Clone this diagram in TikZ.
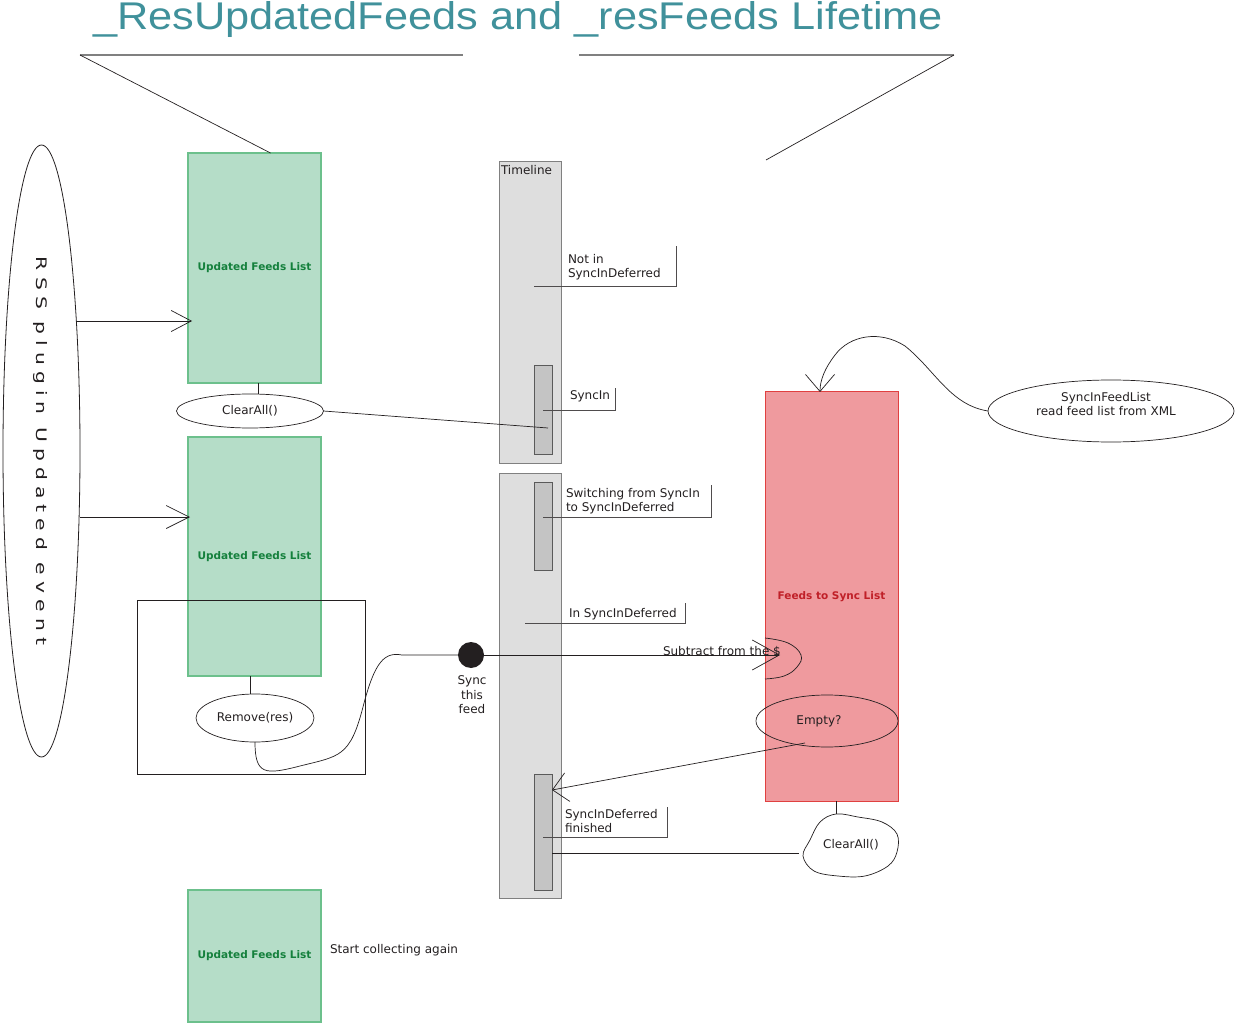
\documentclass[tikz,border=0pt]{standalone}
\usepackage{fontspec}
\usepackage{graphicx}
\setmainfont{DejaVu Sans}
\newfontfamily\titlefont{Liberation Sans}
\newfontfamily\evfont[LetterSpace=30]{DejaVu Sans}
\usetikzlibrary{shapes.geometric,arrows.meta}
\definecolor{titleteal}{RGB}{64,145,155}
\definecolor{gfill}{RGB}{181,221,200}
\definecolor{gdraw}{RGB}{108,192,140}
\definecolor{gtext}{RGB}{20,128,60}
\definecolor{rfill}{RGB}{239,154,158}
\definecolor{rdraw}{RGB}{224,64,64}
\definecolor{rtext}{RGB}{192,32,40}
\definecolor{barfill}{RGB}{222,222,222}
\definecolor{bardraw}{RGB}{128,128,128}
\definecolor{innerfill}{RGB}{196,196,196}
\definecolor{ink}{RGB}{35,31,32}
\tikzset{
  every node/.style={inner sep=0pt, outer sep=0pt, text=ink},
  thinline/.style={draw=ink, line width=0.7pt},
  greenbox/.style={rectangle, draw=gdraw, line width=1.2pt, fill=gfill, text=gtext, font=\fontsize{10.5}{12}\selectfont\bfseries},
  redbox/.style={rectangle, draw=rdraw, line width=1pt, fill=rfill, text=rtext, font=\fontsize{10.5}{12}\selectfont\bfseries},
  barbox/.style={rectangle, draw=bardraw, line width=1pt, fill=barfill},
  innerbar/.style={rectangle, draw=bardraw!70!black, line width=1pt, fill=innerfill},
  oval/.style={ellipse, draw=ink, line width=0.7pt},
  lbl/.style={font=\fontsize{12}{14.3}\selectfont, align=left},
  callout/.style={draw=ink!80, line width=0.8pt},
}
\begin{document}
\begin{tikzpicture}[x=1pt,y=-1pt]
\useasboundingbox (0,0) rectangle (1235,1024);
% title
\node[anchor=base west, text=titleteal] (title) at (93,30) {\resizebox{850pt}{28pt}{\titlefont \_ResUpdatedFeeds and \_resFeeds Lifetime}};
% boxes
\node[greenbox, minimum width=133pt, minimum height=230pt] (g1) at (254.5,268) {Updated Feeds List};
\node[greenbox, minimum width=133pt, minimum height=239pt] (g2) at (254.5,556.5) {Updated Feeds List};
\node[greenbox, minimum width=133pt, minimum height=132pt] (g3) at (254.5,956) {Updated Feeds List};
\node[redbox, minimum width=133pt, minimum height=409pt] (rb) at (831.5,596.5) {Feeds to Sync List};
% frame around removal
\node[draw=ink, line width=0.8pt, minimum width=228pt, minimum height=174pt] (fr) at (251,687) {};
% title lines
\coordinate (tl1) at (80,55);
\coordinate (tl2) at (463,55);
\coordinate (tr1) at (579,55);
\coordinate (tr2) at (954,55);
\coordinate (tr3) at (766,160);
\draw[draw=bardraw, line width=1.5pt] (tl1) -- (tl2);
\draw[draw=bardraw, line width=1.5pt] (tr1) -- (tr2);
\draw[thinline] (tl1) -- ([xshift=16pt]g1.north);
\draw[thinline] (tr2) -- (tr3);
% left event ellipse
\node[ellipse, draw=ink, line width=0.8pt, minimum width=77pt, minimum height=612pt] (ev) at (41.5,451) {};
\node[rotate=-90] (evt) at (40,451) {\scalebox{1.4}[1]{\evfont\fontsize{14.5}{16}\selectfont RSS plugin Updated event}};
\coordinate (ev1) at (76,321);
\coordinate (ev2) at (80,517);
\draw[thinline, -{Straight Barb[length=20pt,width=21pt]}] (ev1) -- ([xshift=4pt]ev1 -| g1.west);
\draw[thinline, -{Straight Barb[length=23pt,width=23pt]}] (ev2) -- ([xshift=2pt]ev2 -| g2.west);
% timeline bars
\node[barbox, minimum width=62pt, minimum height=301pt] (t1) at (530,312.5) {};
\node[anchor=north west, font=\fontsize{12}{14}\selectfont] (tlabel) at (501,165) {Timeline};
\node[barbox, minimum width=62pt, minimum height=425pt] (t2) at (530,685.5) {};
\node[innerbar, minimum width=18pt, minimum height=88pt] (s1) at (543,410) {};
\node[innerbar, minimum width=18pt, minimum height=88pt] (s2) at (543,526) {};
\node[innerbar, minimum width=18pt, minimum height=116pt] (s3) at (543,832) {};
% callouts
\node[lbl, anchor=north west] (c1t) at (568,254) {Not in\\SyncInDeferred};
\draw[callout] (534,286) -- (676,286) -- (676,246);
\node[lbl, anchor=north west] (c2t) at (570,391) {SyncIn};
\draw[callout] (543,410) -- (615,410) -- (615,388);
\node[lbl, anchor=north west] (c3t) at (566,488) {Switching from SyncIn\\to SyncInDeferred};
\draw[callout] (543,517) -- (711,517) -- (711,485);
\node[lbl, anchor=north west] (c4t) at (569,608) {In SyncInDeferred};
\draw[callout] (525,623) -- (685,623) -- (685,603);
\node[lbl, anchor=north west] (c5t) at (565,809) {SyncInDeferred\\finished};
\draw[callout] (543,837) -- (667,837) -- (667,807);
% ClearAll 1
\node[oval, minimum width=147pt, minimum height=34pt, font=\fontsize{12}{14}\selectfont] (ca1) at (250,411) {ClearAll()};
\draw[thinline] ([xshift=3.5pt]g1.south) -- ([xshift=8pt]ca1.north);
\coordinate (s1in) at (548,428);
\draw[thinline] (ca1.east) -- (s1in);
% Remove
\node[oval, minimum width=118pt, minimum height=48pt, font=\fontsize{12}{14}\selectfont] (rm) at (255,718) {Remove(res)};
\draw[thinline] (g2.south -| 250,0) -- (rm.north -| 250,0);
\node[circle, fill=ink, minimum size=26pt] (dot) at (471,655) {};
\node[lbl, align=center, anchor=north] (dott) at (472,676) {Sync\\this\\feed};
\coordinate (bend) at (402,655);
\draw[thinline] (rm.south) .. controls (255,775) and (265,775) .. (300,766)
   .. controls (340,756) and (350,757) .. (363,707)
   .. controls (375,660) and (385,652) .. (bend) -- (dot.west);
% subtract
\coordinate (subtip) at (780,655);
\draw[thinline, -{Straight Barb[length=27pt,width=30pt]}] (dot.east) -- (subtip);
\node[lbl, anchor=base west] (subt) at (663,655) {Subtract from the \$};
\draw[thinline] plot[smooth, tension=0.7] coordinates {(765,638) (788,643) (801,655) (797,667) (784,676) (765,679)};
% Empty?
\node[oval, minimum width=142pt, minimum height=52pt] (em) at (827,721) {};
\node[lbl] (emt) at (819,721) {Empty?};
\coordinate (emout) at (805,743);
\draw[thinline, -{Straight Barb[length=15pt,width=29pt]}] (emout) -- (s3.east |- 0,790);
% SyncInFeedList
\node[oval, minimum width=246pt, minimum height=62pt] (sf) at (1111,411) {};
\node[lbl, align=center] (sft) at (1106,404) {SyncInFeedList\\read feed list from XML};
\draw[thinline, -{Straight Barb[length=17pt,width=29pt]}] (sf.west) .. controls (950,405) and (935,370) .. (905,346)
  .. controls (880,330) and (850,335) .. (835,355) .. controls (825,368) and (820,380) .. ([xshift=-11.5pt]rb.north);
% ClearAll 2 (cloud)
\coordinate (ca2top) at (836,814);
\draw[thinline] (rb.south -| ca2top) -- (ca2top);
\draw[thinline] plot[smooth cycle, tension=0.6] coordinates {(836,814) (858,817) (882,822) (897,834) (897,852) (888,866) (865,876) (838,876) (814,871) (803,856) (810,840) (820,822)};
\node[lbl] (ca2) at (851,845) {ClearAll()};
\coordinate (ca2l) at (799,853);
\draw[thinline] (s3.east |- ca2l) -- (ca2l);
% start collecting
\node[lbl, anchor=base west] (sc) at (330,953) {Start collecting again};
\end{tikzpicture}
\end{document}
